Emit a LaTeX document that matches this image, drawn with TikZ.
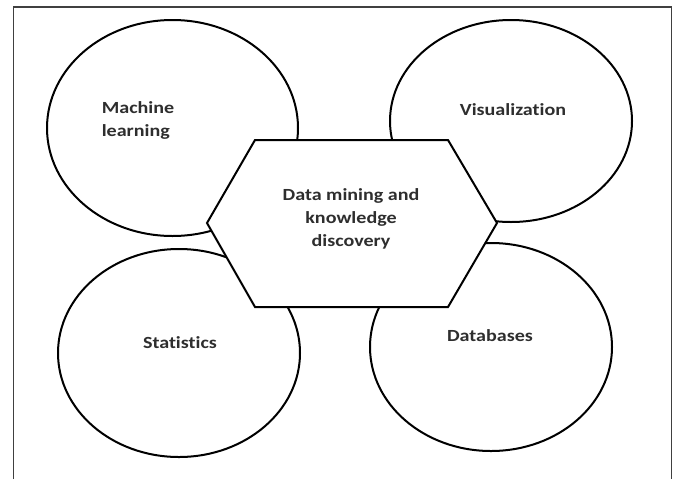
\documentclass[tikz,border=0pt]{standalone}
\usepackage{fontspec}
\setmainfont{Carlito}[FakeStretch=1.18,Ligatures=NoCommon]
\begin{document}
\begin{tikzpicture}[x=1pt,y=-1pt,
  ring/.style={draw=black,line width=2pt,fill=white},
  label/.style={font=\bfseries\fontsize{17}{23}\selectfont,text=black!82,align=center},
  frameline/.style={draw=black!75,line width=1.6pt}]
  \useasboundingbox (0,0) rectangle (676,479);
  % open frame
  \draw[frameline] (13.5,479) -- (13.5,7) -- (671.5,7) -- (671.5,479);
  % four topic circles
  \draw[ring] (172.5,128) ellipse [x radius=125.5, y radius=108];
  \draw[ring] (511,121) ellipse [x radius=121, y radius=101];
  \draw[ring] (179,353) ellipse [x radius=121, y radius=104];
  \draw[ring] (491,347) ellipse [x radius=121, y radius=104];
  % central hexagon
  \coordinate (h1) at (255,140);
  \coordinate (h2) at (448,140);
  \coordinate (h3) at (497,223);
  \coordinate (h4) at (448,307);
  \coordinate (h5) at (255,307);
  \coordinate (h6) at (207,223);
  \draw[ring,line join=miter] (h1) -- (h2) -- (h3) -- (h4) -- (h5) -- (h6) -- cycle;
  % labels
  \node[label,align=left] (ml) at (138,120) {Machine\\learning};
  \node[label] (vis) at (513,110) {Visualization};
  \node[label] (stat) at (180,343) {Statistics};
  \node[label] (db) at (490,336) {Databases};
  \node[label] (dm) at (351,219) {Data mining and\\knowledge\\discovery};
\end{tikzpicture}
\end{document}
